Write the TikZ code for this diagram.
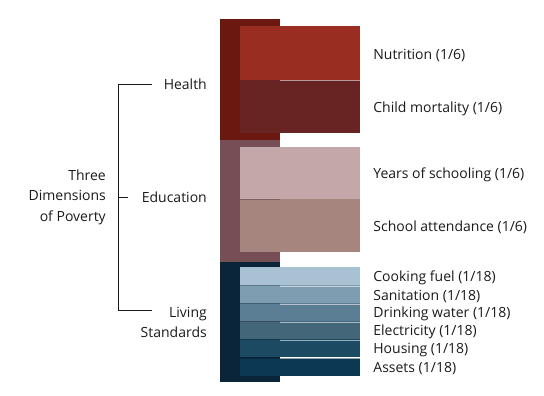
\documentclass[tikz,border=0pt]{standalone}
\usepackage{fontspec}
\setmainfont{Open Sans}
\usetikzlibrary{positioning}

\definecolor{hlthbar}{HTML}{6A1810}
\definecolor{nutrcol}{HTML}{992D22}
\definecolor{mortcol}{HTML}{682323}
\definecolor{educbar}{HTML}{764F56}
\definecolor{yearcol}{HTML}{C4A7A8}
\definecolor{attncol}{HTML}{A5857E}
\definecolor{livbar}{HTML}{0A2539}
\definecolor{fuelcol}{HTML}{A8C2D3}
\definecolor{sanicol}{HTML}{7F9DB0}
\definecolor{watrcol}{HTML}{5C7E95}
\definecolor{elcol}{HTML}{436679}
\definecolor{housecol}{HTML}{1C4A62}
\definecolor{assetcol}{HTML}{0D3853}
\definecolor{inkcol}{HTML}{1A1A1A}

\tikzset{
  dimbar/.style={inner sep=0pt, minimum width=60pt},
  strip/.style={inner sep=0pt, minimum width=120pt},
  seamlt/.style={white, opacity=0.55, line width=0.8pt},
  seamdk/.style={black, opacity=0.25, line width=0.8pt},
  lbl/.style={inner sep=0pt, anchor=west, text=inkcol, yshift=-2pt},
  bracket/.style={line width=0.8pt, draw=inkcol}
}

\begin{document}
\begin{tikzpicture}[x=1pt,y=-1pt]
  \useasboundingbox (0,0) rectangle (544,396);
  {\fontsize{14}{20.5}\selectfont

  % Drawing the three dimension bars
  \node [dimbar, fill=hlthbar, minimum height=120pt] (hbar) at (250,79.5) {};
  \node [dimbar, fill=educbar, minimum height=122pt] (ebar) at (250,200.5) {};
  \node [dimbar, fill=livbar, minimum height=120pt] (lbar) at (250,321.5) {};

  % Drawing health indicators
  \node [strip, fill=nutrcol, minimum height=54pt] (nutr) at (300,53) {};
  \node [strip, fill=mortcol, minimum height=53pt] (mort) at (300,106.5) {};
  \draw [seamlt] (280,80) -- (360,80);%

  % Drawing education indicators
  \node [strip, fill=yearcol, minimum height=52pt] (year) at (300,173) {};
  \node [strip, fill=attncol, minimum height=53pt] (attn) at (300,225.5) {};
  \draw [seamdk] (240,199) -- (280,199);%

  % Drawing living standard indicators
  \node [strip, fill=fuelcol, minimum height=18pt] (fuel) at (300,276) {};
  \node [strip, fill=sanicol, minimum height=18pt] (sani) at (300,294) {};
  \node [strip, fill=watrcol, minimum height=18pt] (watr) at (300,312) {};
  \node [strip, fill=elcol, minimum height=18pt] (elec) at (300,330) {};
  \node [strip, fill=housecol, minimum height=18pt] (hous) at (300,348) {};
  \node [strip, fill=assetcol, minimum height=18pt] (asst) at (300,367) {};
  \draw [seamdk] (240,285) -- (280,285);%
  \draw [seamdk] (240,303) -- (280,303);%
  \draw [seamdk] (240,321) -- (280,321);%
  \draw [seamdk] (240,339) -- (280,339);%
  \draw [seamdk] (240,358) -- (280,358);%
  \draw [seamlt] (280,286) -- (360,286);%
  \draw [seamlt] (280,304) -- (360,304);%
  \draw [seamlt] (280,322) -- (360,322);%
  \draw [seamlt] (280,340) -- (360,340);%
  \draw [seamlt] (280,358) -- (360,358);%

  % Labelling the indicators
  \node [lbl, right=13pt of nutr] (nutrl) {Nutrition (1/6)};
  \node [lbl, right=13pt of mort] (mortl) {Child mortality (1/6)};
  \node [lbl, right=13pt of year] (yearl) {Years of schooling (1/6)};
  \node [lbl, right=13pt of attn] (attnl) {School attendance (1/6)};
  \node [lbl, right=13pt of fuel] (fuell) {Cooking fuel (1/18)};
  \node [lbl, right=13pt of sani] (sanil) {Sanitation (1/18)};
  \node [lbl, right=13pt of watr] (watrl) {Drinking water (1/18)};
  \node [lbl, right=13pt of elec] (elecl) {Electricity (1/18)};
  \node [lbl, right=13pt of hous] (housl) {Housing (1/18)};
  \node [lbl, right=13pt of asst] (asstl) {Assets (1/18)};

  % Labelling the dimensions
  \node [inner sep=0pt, anchor=east, text=inkcol] (hlth) at (207,84) {Health};
  \node [inner sep=0pt, anchor=east, text=inkcol] (educ) at (207,197) {Education};
  \node [inner sep=0pt, anchor=north east, align=right, text=inkcol] (livs) at (207,307) {Living\\Standards};
  \node [inner sep=0pt, anchor=east, align=right, text=inkcol] (root) at (106,197) {Three\\Dimensions\\of Poverty};

  % Drawing the bracket
  \coordinate (spt) at (118,84);
  \coordinate (spm) at (118,197);
  \coordinate (spb) at (118,310);
  \coordinate (hend) at (152,84);
  \coordinate (eend) at (128,197);
  \coordinate (lend) at (152,310);
  \draw [bracket] (hend) -- (spt) -- (spb) -- (lend);%
  \draw [bracket] (spm) -- (eend);%
  }
\end{tikzpicture}
\end{document}
